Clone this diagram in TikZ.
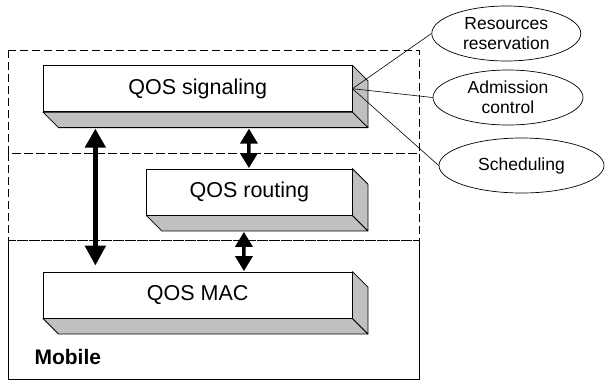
\documentclass[tikz,border=0pt]{standalone}
\usepackage{fontspec}
\setmainfont{Liberation Sans}
\usetikzlibrary{arrows.meta,shapes.geometric,calc}
\definecolor{shadegray}{RGB}{192,192,192}
\begin{document}
\begin{tikzpicture}[x=1pt,y=-1pt,
  frame/.style={line width=0.9pt},
  dashedframe/.style={line width=0.9pt,dash pattern=on 8pt off 4pt},
  face/.style={draw,fill=white,line width=0.8pt,inner sep=0pt,minimum height=46pt,font=\fontsize{21.5}{24}\selectfont},
  side/.style={draw,fill=shadegray,line width=0.8pt,line join=round},
  task/.style={draw,ellipse,line width=0.7pt,inner sep=0pt,minimum height=55pt,align=center,font=\fontsize{17.5}{20}\selectfont},
  link/.style={line width=0.6pt},
  bigarrow/.style={line width=5pt,{Triangle[width=20pt,length=19pt]}-{Triangle[width=20pt,length=20pt]}},
  smallarrow/.style={line width=3.5pt,{Triangle[width=17pt,length=15pt]}-{Triangle[width=17pt,length=15pt]}}
]
\useasboundingbox (0,0) rectangle (605,381);

% frames
\draw[dashedframe] (8,50) rectangle (419,153);
\draw[dashedframe] (8,153) rectangle (419,240);
\draw[frame] (8,240) -- (8,379) -- (419,379) -- (419,240);
\draw[dashedframe] (8,240) -- (419,240);

% 3D boxes
\node[face,minimum width=308.7pt] (sig) at (197.7,88.7) {QOS signaling};
\node[face,minimum width=205.3pt] (rout) at (249.35,192) {QOS routing};
\node[face,minimum width=308.7pt] (mac) at (197.7,295) {QOS MAC};
\foreach \b in {sig,rout,mac}{
  \draw[side] (\b.south west) -- ++(15.5,15.5) -- ($(\b.south east)+(15.5,15.5)$) -- (\b.south east) -- cycle;
  \draw[side] (\b.south east) -- ++(15.5,15.5) -- ($(\b.north east)+(15.5,15.5)$) -- (\b.north east) -- cycle;
}

% ellipses
\node[task,minimum width=149pt] (res) at (506.3,33.5) {Resources\\reservation};
\node[task,minimum width=150pt] (adm) at (508,97.5) {Admission\\control};
\node[task,minimum width=165pt] (sch) at (521.5,165.5) {Scheduling};

\draw[link] (sig.east) -- (res.west);
\draw[link] (sig.east) -- (adm.west);
\draw[link] (sig.east) -- (sch.west);

% arrows
\draw[bigarrow] ($(sig.south west)+(52.4,16.5)$) -- ($(mac.north west)+(52.4,-6)$);
\draw[smallarrow] ($(sig.south west)+(206,16.5)$) -- ($(rout.north west)+(102.6,-0.5)$);
\draw[smallarrow] ($(rout.south west)+(97.6,16.5)$) -- ($(mac.north west)+(201,-0.5)$);

\node[anchor=base west,font=\fontsize{21}{24}\selectfont\bfseries] (mob) at (31,364) {Mobile};
\end{tikzpicture}
\end{document}
